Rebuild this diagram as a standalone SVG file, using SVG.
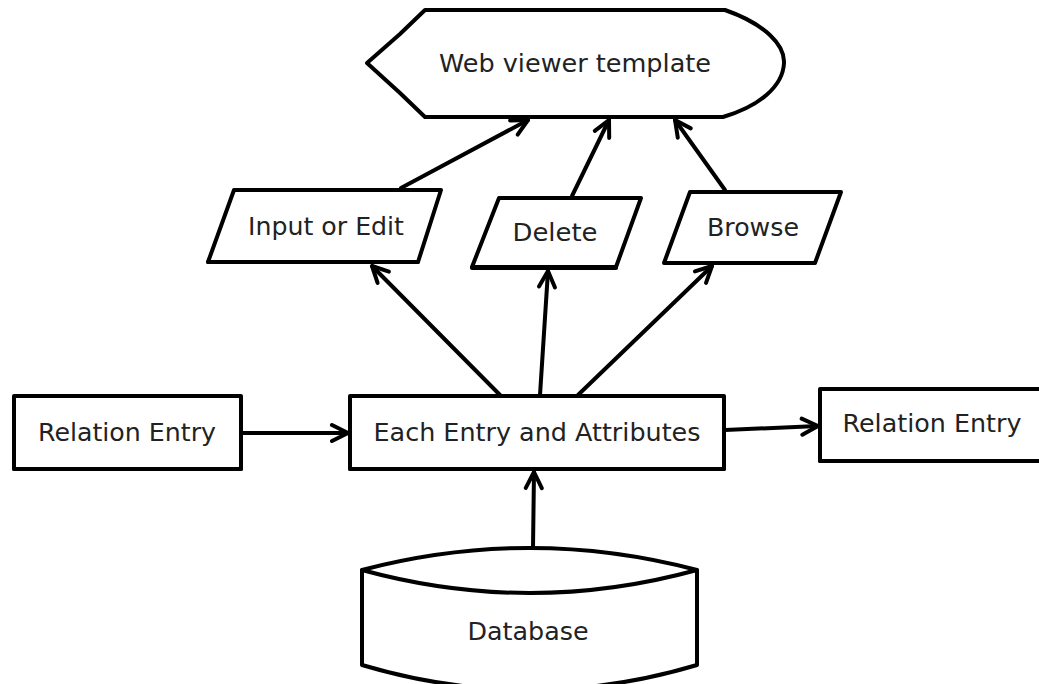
<svg xmlns="http://www.w3.org/2000/svg" width="1039" height="684" viewBox="0 0 1039 684">
  <style>
    .shape { fill: #ffffff; stroke: #000000; stroke-width: 4; stroke-linejoin: round; }
    .edge { fill: none; stroke: #000000; stroke-width: 4; stroke-linecap: round; }
    .label { font-family: "DejaVu Sans", "Liberation Sans", sans-serif; font-size: 24px; fill: #222222; text-anchor: middle; }
  </style>
  <defs>
    <marker id="arrow" viewBox="0 0 22 22" refX="20" refY="11" markerWidth="22" markerHeight="22" markerUnits="userSpaceOnUse" orient="auto">
      <path d="M4,3 L20,11 L4,19" fill="none" stroke="#000000" stroke-width="4" stroke-linecap="round" stroke-linejoin="round"/>
    </marker>
  </defs>
  <rect width="1039" height="684" fill="#ffffff"/>

  <g id="connectors">
    <line class="edge" x1="401" y1="188" x2="528" y2="120" marker-end="url(#arrow)"/>
    <line class="edge" x1="572" y1="196" x2="609" y2="120" marker-end="url(#arrow)"/>
    <line class="edge" x1="725" y1="190" x2="675" y2="120" marker-end="url(#arrow)"/>
    <line class="edge" x1="500" y1="395" x2="372" y2="266" marker-end="url(#arrow)"/>
    <line class="edge" x1="540" y1="395" x2="548" y2="271" marker-end="url(#arrow)"/>
    <line class="edge" x1="578" y1="395" x2="712" y2="266" marker-end="url(#arrow)"/>
    <line class="edge" x1="533" y1="548" x2="534" y2="472" marker-end="url(#arrow)"/>
    <line class="edge" x1="242" y1="433" x2="348" y2="433" marker-end="url(#arrow)"/>
    <line class="edge" x1="725" y1="430" x2="818" y2="426" marker-end="url(#arrow)"/>
  </g>

  <g id="web-viewer-template">
    <path class="shape" d="M425,10 L725,10 C765,24 785,45 784,63 C783,86 760,106 723,117 L425,117 L400,93 L367,63 L400,34 Z"/>
    <text class="label" x="575" y="72" textLength="272" lengthAdjust="spacingAndGlyphs">Web viewer template</text>
  </g>

  <g id="input-or-edit">
    <path class="shape" d="M234,190 L441,190 L418,262 L208,262 Z"/>
    <line class="edge" x1="208" y1="262" x2="418" y2="262" stroke-width="5"/>
    <text class="label" x="326" y="235" textLength="156" lengthAdjust="spacingAndGlyphs">Input or Edit</text>
  </g>

  <g id="delete">
    <path class="shape" d="M499,198 L641,198 L616,267 L472,267 Z"/>
    <line class="edge" x1="472" y1="268" x2="616" y2="268" stroke-width="5.5"/>
    <text class="label" x="555" y="241" textLength="85" lengthAdjust="spacingAndGlyphs">Delete</text>
  </g>

  <g id="browse">
    <path class="shape" d="M690,192 L841,192 L815,263 L664,263 Z"/>
    <text class="label" x="753" y="236" textLength="92" lengthAdjust="spacingAndGlyphs">Browse</text>
  </g>

  <g id="relation-entry-left">
    <rect class="shape" x="14" y="396" width="227" height="73"/>
    <line class="edge" x1="14" y1="469" x2="241" y2="469" stroke-width="5"/>
    <text class="label" x="127" y="441" textLength="178" lengthAdjust="spacingAndGlyphs">Relation Entry</text>
  </g>

  <g id="each-entry-and-attributes">
    <rect class="shape" x="350" y="396" width="374" height="73"/>
    <line class="edge" x1="350" y1="469" x2="724" y2="469" stroke-width="5"/>
    <text class="label" x="537" y="441" textLength="327" lengthAdjust="spacingAndGlyphs">Each Entry and Attributes</text>
  </g>

  <g id="relation-entry-right">
    <rect class="shape" x="820" y="389" width="230" height="72"/>
    <line class="edge" x1="820" y1="461" x2="1039" y2="461" stroke-width="5"/>
    <text class="label" x="932" y="432" textLength="179" lengthAdjust="spacingAndGlyphs">Relation Entry</text>
  </g>

  <g id="database">
    <path class="shape" d="M362,570 Q530,526 697,570 L697,665 Q530,715 362,665 Z"/>
    <path class="edge" d="M362,570 Q530,616 697,570"/>
    <text class="label" x="528" y="640" textLength="121" lengthAdjust="spacingAndGlyphs">Database</text>
  </g>
</svg>
